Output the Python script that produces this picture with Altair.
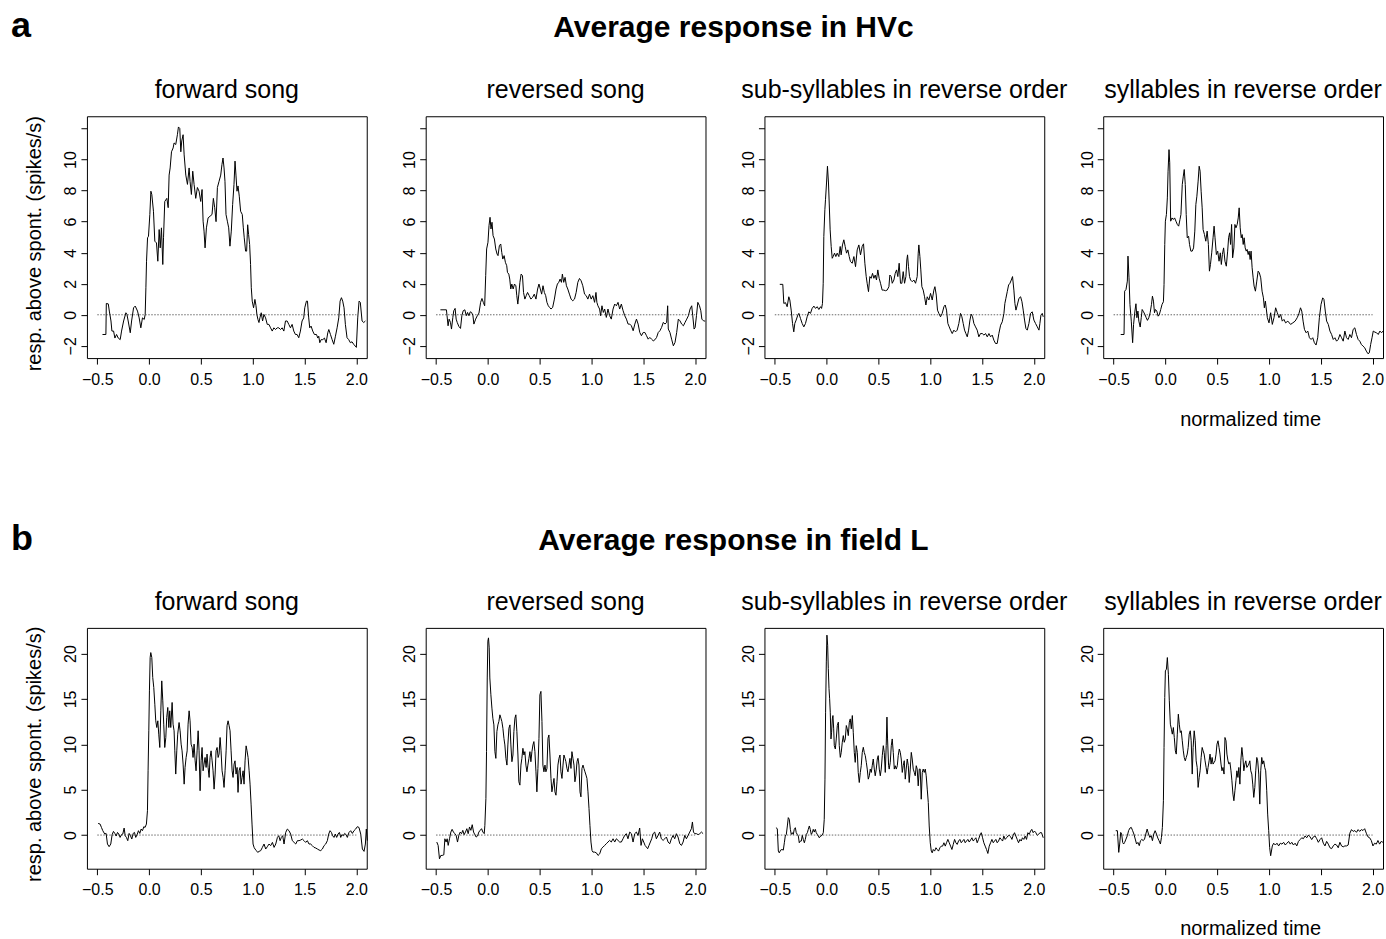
import altair as alt
import pandas as pd

FONT = "Liberation Sans"

PANEL_TITLES = ["forward song", "reversed song",
                "sub-syllables in reverse order", "syllables in reverse order"]
ROW_HEADINGS = ["Average response in HVc", "Average response in field L"]
ROW_LETTERS = ["a", "b"]
Y_TITLE = "resp. above spont. (spikes/s)"
X_TITLE = "normalized time"
X_TICKS = [-0.5, 0.0, 0.5, 1.0, 1.5, 2.0]
Y_TICKS_HVC = [-2, 0, 2, 4, 6, 8, 10, 12]
Y_TICKS_FIELDL = [0, 5, 10, 15, 20]
X_DOMAIN = [-0.6, 2.1]
Y_DOMAIN_HVC = [-2.79, 12.79]
Y_DOMAIN_FIELDL = [-3.71, 22.83]
ZERO_LINE = [-0.5, 2.0]

# (normalized time, response above spontaneous in spikes/s)
HVC_FORWARD = [(-0.450,-1.27),(-0.417,-1.27),(-0.413,0.73),(-0.394,0.70),(-0.384,0.24),(-0.368,-0.40),(-0.359,-1.05),(-0.343,-1.05),(-0.330,-1.50),(-0.314,-1.27),(-0.298,-1.50),(-0.279,-1.60),(-0.266,-1.05),(-0.246,-0.40),(-0.224,0.13),(-0.214,0.02),(-0.202,-0.40),(-0.182,-1.16),(-0.169,-0.40),(-0.150,0.45),(-0.134,0.56),(-0.112,0.24),(-0.096,-0.20),(-0.080,-0.84),(-0.064,-0.20),(-0.047,-0.30),(-0.038,0.02),(-0.031,1.74),(-0.025,3.45),(-0.015,4.96),(-0.006,5.06),(0.007,6.46),(0.017,7.96),(0.026,7.75),(0.042,6.67),(0.055,4.74),(0.071,4.63),(0.084,3.45),(0.097,5.49),(0.107,4.31),(0.119,5.60),(0.132,3.24),(0.139,4.96),(0.151,7.30),(0.171,7.50),(0.184,6.90),(0.193,9.00),(0.203,9.46),(0.216,10.50),(0.232,10.75),(0.241,11.07),(0.257,10.97),(0.273,11.60),(0.283,12.10),(0.296,12.00),(0.306,10.50),(0.315,11.20),(0.328,11.60),(0.338,10.30),(0.354,9.00),(0.370,8.40),(0.386,9.46),(0.395,8.60),(0.408,7.75),(0.421,9.25),(0.434,8.40),(0.450,7.50),(0.466,8.20),(0.482,7.96),(0.498,7.30),(0.511,8.07),(0.521,6.03),(0.530,5.39),(0.540,4.31),(0.553,5.60),(0.569,6.24),(0.588,6.35),(0.607,6.46),(0.620,7.50),(0.633,6.90),(0.646,6.00),(0.659,8.20),(0.675,8.60),(0.691,9.00),(0.703,9.68),(0.713,10.10),(0.723,9.46),(0.732,8.60),(0.742,6.46),(0.755,6.03),(0.768,5.60),(0.780,4.42),(0.793,5.39),(0.806,7.10),(0.819,8.40),(0.829,9.90),(0.838,9.00),(0.848,7.96),(0.858,8.30),(0.870,7.64),(0.883,6.67),(0.899,6.46),(0.909,5.60),(0.918,4.96),(0.931,4.10),(0.941,4.10),(0.951,5.80),(0.960,5.17),(0.970,4.53),(0.979,3.24),(0.986,1.74),(0.995,0.88),(1.008,0.45),(1.021,0.99),(1.031,0.60),(1.040,0.02),(1.050,-0.30),(1.060,-0.50),(1.069,-0.20),(1.082,0.13),(1.095,-0.40),(1.108,0.02),(1.124,-0.20),(1.140,-0.62),(1.156,-0.62),(1.172,-0.84),(1.188,-1.05),(1.204,-0.84),(1.220,-0.95),(1.236,-0.84),(1.252,-0.84),(1.268,-0.95),(1.284,-0.84),(1.300,-1.05),(1.316,-0.40),(1.332,-0.40),(1.348,-0.62),(1.364,-0.84),(1.380,-0.62),(1.396,-1.05),(1.412,-1.27),(1.428,-1.27),(1.444,-1.48),(1.460,-1.05),(1.476,-0.40),(1.492,-0.20),(1.502,0.45),(1.518,0.88),(1.528,0.88),(1.540,-0.20),(1.550,-0.84),(1.563,-0.73),(1.579,-1.05),(1.595,-1.27),(1.615,-1.27),(1.628,-1.50),(1.637,-1.38),(1.647,-1.80),(1.660,-1.60),(1.676,-1.60),(1.692,-1.50),(1.708,-1.80),(1.724,-1.16),(1.734,-0.95),(1.750,-1.27),(1.766,-1.60),(1.782,-1.90),(1.798,-1.38),(1.814,-0.84),(1.830,-0.20),(1.843,0.88),(1.856,1.10),(1.868,0.88),(1.881,0.45),(1.894,-0.62),(1.910,-1.48),(1.926,-1.60),(1.942,-1.80),(1.958,-1.74),(1.974,-1.90),(2.000,-2.10),(2.013,-0.20),(2.026,0.88),(2.038,0.80),(2.055,-0.40),(2.071,-0.50),(2.087,-0.40)]

HVC_REVERSED = [(-0.458,0.32),(-0.400,0.32),(-0.394,-0.06),(-0.384,-0.71),(-0.374,-0.28),(-0.361,-0.49),(-0.351,-0.92),(-0.338,-0.17),(-0.329,0.26),(-0.316,0.41),(-0.306,-0.28),(-0.296,-0.49),(-0.280,-0.75),(-0.264,-0.88),(-0.251,-0.06),(-0.238,0.26),(-0.222,0.32),(-0.209,-0.06),(-0.196,0.15),(-0.183,-0.06),(-0.170,0.19),(-0.157,0.15),(-0.144,-0.06),(-0.135,-0.60),(-0.118,-0.28),(-0.102,-0.06),(-0.086,0.11),(-0.070,0.80),(-0.057,1.05),(-0.044,0.80),(-0.031,0.58),(-0.021,2.52),(-0.012,4.24),(0.001,4.67),(0.011,5.74),(0.021,6.28),(0.030,5.53),(0.040,5.96),(0.050,5.10),(0.063,4.88),(0.076,4.24),(0.089,3.91),(0.098,3.81),(0.111,4.45),(0.124,4.56),(0.134,4.02),(0.144,3.59),(0.157,3.81),(0.169,3.38),(0.182,3.16),(0.189,2.73),(0.202,2.62),(0.211,2.30),(0.221,1.66),(0.231,1.98),(0.244,1.66),(0.257,1.98),(0.270,1.87),(0.279,1.23),(0.289,0.69),(0.299,1.33),(0.309,2.09),(0.321,2.62),(0.334,2.52),(0.344,1.44),(0.357,1.01),(0.370,1.23),(0.383,1.44),(0.399,1.23),(0.415,1.01),(0.431,1.12),(0.448,1.33),(0.464,1.01),(0.480,1.66),(0.493,1.98),(0.506,1.66),(0.519,1.33),(0.532,1.87),(0.545,1.44),(0.558,1.23),(0.570,0.80),(0.583,0.58),(0.596,0.47),(0.609,0.37),(0.625,0.47),(0.642,1.01),(0.658,1.66),(0.671,1.98),(0.684,2.09),(0.697,2.30),(0.710,2.09),(0.719,2.62),(0.732,2.09),(0.745,2.41),(0.758,1.87),(0.771,1.66),(0.787,1.33),(0.803,1.01),(0.819,0.90),(0.836,1.01),(0.852,1.44),(0.868,2.09),(0.884,2.34),(0.900,2.19),(0.916,1.87),(0.933,1.33),(0.949,1.23),(0.965,1.01),(0.981,1.33),(0.997,1.01),(1.013,1.23),(1.030,0.80),(1.043,1.44),(1.052,0.80),(1.062,0.58),(1.078,0.37),(1.088,-0.06),(1.101,0.58),(1.114,0.15),(1.127,0.37),(1.143,-0.17),(1.159,0.37),(1.175,-0.06),(1.191,-0.28),(1.208,0.37),(1.224,0.69),(1.240,0.58),(1.256,0.80),(1.272,0.37),(1.288,0.69),(1.305,0.26),(1.321,-0.06),(1.337,-0.28),(1.353,-0.60),(1.369,-0.60),(1.385,-0.71),(1.402,-1.03),(1.418,-0.60),(1.434,-0.28),(1.450,-0.60),(1.466,-1.14),(1.482,-1.35),(1.499,-1.14),(1.515,-1.14),(1.531,-1.35),(1.547,-1.57),(1.563,-1.46),(1.579,-1.57),(1.596,-1.68),(1.612,-1.61),(1.628,-1.46),(1.644,-1.14),(1.660,-1.03),(1.676,-0.82),(1.693,-0.49),(1.709,-0.60),(1.725,-0.49),(1.735,0.58),(1.741,-0.92),(1.757,-1.14),(1.773,-1.57),(1.790,-2.00),(1.806,-1.78),(1.822,-1.14),(1.838,-0.28),(1.854,-0.39),(1.870,-0.60),(1.887,-0.71),(1.903,-0.49),(1.919,-0.28),(1.935,-0.06),(1.951,0.37),(1.967,0.58),(1.977,-0.06),(1.990,-0.92),(2.000,-0.82),(2.013,-0.06),(2.026,0.80),(2.042,0.58),(2.055,0.26),(2.065,-0.28),(2.081,-0.39),(2.097,-0.41)]

HVC_SUBSYL = [(-0.452,1.96),(-0.423,1.96),(-0.413,0.73),(-0.397,0.78),(-0.381,0.52),(-0.365,1.16),(-0.355,0.95),(-0.342,0.30),(-0.329,-0.56),(-0.317,-1.10),(-0.307,-0.56),(-0.294,-0.34),(-0.278,-0.02),(-0.268,0.09),(-0.252,-0.24),(-0.236,-0.56),(-0.220,-0.78),(-0.204,-0.56),(-0.188,-0.13),(-0.172,0.19),(-0.156,0.09),(-0.140,0.41),(-0.123,0.56),(-0.107,0.41),(-0.091,0.52),(-0.075,0.34),(-0.059,0.52),(-0.049,0.41),(-0.040,0.73),(-0.033,2.03),(-0.027,5.04),(-0.017,6.77),(-0.011,7.41),(-0.001,8.49),(0.008,9.57),(0.018,8.49),(0.025,7.20),(0.034,5.47),(0.044,4.40),(0.054,3.64),(0.063,3.75),(0.076,3.97),(0.089,3.75),(0.102,3.97),(0.118,3.75),(0.131,4.40),(0.140,3.86),(0.153,4.50),(0.166,4.83),(0.179,4.40),(0.192,3.97),(0.205,4.18),(0.218,3.75),(0.230,3.43),(0.247,3.32),(0.263,3.75),(0.279,3.10),(0.295,4.18),(0.311,4.50),(0.327,3.86),(0.343,4.40),(0.356,4.57),(0.369,3.32),(0.382,2.46),(0.391,2.03),(0.404,1.49),(0.417,2.46),(0.430,2.35),(0.443,2.67),(0.456,2.35),(0.469,2.56),(0.481,2.24),(0.494,2.89),(0.507,2.35),(0.520,2.03),(0.536,1.59),(0.552,1.59),(0.568,1.55),(0.584,1.59),(0.601,1.81),(0.610,2.56),(0.623,2.46),(0.633,2.03),(0.649,2.24),(0.662,2.67),(0.675,2.89),(0.687,2.46),(0.700,3.32),(0.713,2.03),(0.726,2.03),(0.739,2.78),(0.752,2.03),(0.765,2.46),(0.774,3.53),(0.781,3.86),(0.790,3.10),(0.800,2.46),(0.810,2.24),(0.826,2.13),(0.842,2.24),(0.858,2.03),(0.874,2.46),(0.884,3.97),(0.890,4.50),(0.900,3.75),(0.909,2.89),(0.919,1.81),(0.932,1.59),(0.945,1.16),(0.958,0.63),(0.971,1.16),(0.987,0.95),(1.003,1.38),(1.019,0.95),(1.035,1.59),(1.045,1.81),(1.058,1.27),(1.070,0.30),(1.083,0.09),(1.099,-0.13),(1.115,0.09),(1.132,0.52),(1.144,0.63),(1.157,0.30),(1.170,-0.56),(1.183,-0.78),(1.196,-0.99),(1.212,-1.21),(1.228,-0.99),(1.244,-1.10),(1.260,-0.99),(1.276,-0.56),(1.292,0.09),(1.305,-0.13),(1.318,-0.56),(1.331,-0.99),(1.344,-1.21),(1.357,-1.42),(1.370,-0.99),(1.383,-0.34),(1.395,0.04),(1.408,-0.13),(1.421,-0.56),(1.437,-0.78),(1.453,-0.99),(1.469,-1.42),(1.485,-1.21),(1.502,-1.21),(1.518,-1.31),(1.534,-1.21),(1.550,-1.42),(1.566,-1.21),(1.582,-1.42),(1.598,-1.31),(1.614,-1.64),(1.630,-1.85),(1.646,-1.85),(1.662,-1.21),(1.679,-0.67),(1.695,-0.45),(1.711,0.09),(1.720,0.73),(1.730,1.06),(1.743,1.49),(1.756,1.92),(1.769,2.03),(1.782,2.24),(1.794,2.46),(1.807,1.59),(1.817,0.73),(1.827,0.30),(1.840,0.63),(1.856,1.06),(1.872,1.16),(1.885,0.84),(1.897,0.30),(1.910,-0.34),(1.923,-0.88),(1.936,-0.99),(1.952,-0.56),(1.968,0.09),(1.984,0.19),(2.000,-0.34),(2.016,-0.56),(2.033,-0.78),(2.049,-0.99),(2.058,-0.56),(2.068,-0.02),(2.081,0.09),(2.090,-0.13)]

HVC_SYL = [(-0.431,-1.27),(-0.399,-1.27),(-0.393,1.52),(-0.380,1.63),(-0.367,2.17),(-0.361,3.78),(-0.351,2.38),(-0.342,0.67),(-0.329,-0.41),(-0.316,-1.80),(-0.307,-0.62),(-0.294,0.24),(-0.284,0.71),(-0.275,-0.19),(-0.265,0.24),(-0.256,-0.41),(-0.243,-0.79),(-0.233,-0.19),(-0.224,0.34),(-0.211,0.19),(-0.198,0.02),(-0.185,-0.19),(-0.173,-0.36),(-0.160,-0.19),(-0.147,0.13),(-0.134,0.67),(-0.125,1.20),(-0.115,0.88),(-0.105,0.13),(-0.096,0.34),(-0.083,0.24),(-0.070,-0.09),(-0.058,0.02),(-0.045,0.34),(-0.032,0.67),(-0.019,0.84),(-0.013,1.95),(-0.006,4.53),(0.000,6.03),(0.010,6.46),(0.019,7.53),(0.026,9.25),(0.035,10.64),(0.042,9.79),(0.051,6.03),(0.064,6.24),(0.077,6.14),(0.089,6.24),(0.102,6.03),(0.115,5.82),(0.128,5.71),(0.141,6.14),(0.150,6.46),(0.163,8.39),(0.173,8.93),(0.182,9.36),(0.192,8.39),(0.201,6.46),(0.211,4.96),(0.224,5.06),(0.233,4.53),(0.246,4.10),(0.259,4.10),(0.272,4.31),(0.284,5.39),(0.294,7.10),(0.304,7.64),(0.316,8.61),(0.326,9.57),(0.335,9.25),(0.345,7.96),(0.355,6.89),(0.364,5.49),(0.377,5.17),(0.390,4.74),(0.403,5.39),(0.415,4.53),(0.425,2.81),(0.435,3.24),(0.447,3.99),(0.460,4.96),(0.470,5.71),(0.479,4.96),(0.492,3.88),(0.505,4.10),(0.518,3.45),(0.530,3.99),(0.540,3.24),(0.550,3.88),(0.562,4.31),(0.575,3.45),(0.588,3.13),(0.601,4.10),(0.610,4.96),(0.620,5.28),(0.629,4.53),(0.639,5.82),(0.649,3.67),(0.661,4.31),(0.671,5.82),(0.681,5.60),(0.693,5.82),(0.703,6.24),(0.712,6.89),(0.722,5.60),(0.732,4.96),(0.741,5.17),(0.751,4.53),(0.760,4.96),(0.770,4.31),(0.780,4.10),(0.789,4.21),(0.799,3.88),(0.808,4.10),(0.818,3.56),(0.827,4.10),(0.837,3.03),(0.847,2.38),(0.856,1.85),(0.869,1.52),(0.882,2.17),(0.895,2.81),(0.907,2.70),(0.920,2.38),(0.933,1.52),(0.946,1.09),(0.955,0.45),(0.965,0.88),(0.984,-0.19),(1.000,-0.52),(1.016,0.13),(1.032,-0.62),(1.048,-0.19),(1.064,0.45),(1.080,0.13),(1.096,-0.19),(1.112,0.02),(1.128,-0.41),(1.144,-0.30),(1.160,-0.52),(1.182,-0.41),(1.208,-0.62),(1.230,-0.52),(1.252,-0.41),(1.272,-0.19),(1.288,0.06),(1.304,0.45),(1.316,0.24),(1.329,-0.41),(1.342,-0.94),(1.358,-1.16),(1.374,-1.05),(1.390,-1.48),(1.406,-1.59),(1.422,-1.48),(1.438,-1.80),(1.454,-1.95),(1.470,-1.48),(1.486,-0.19),(1.502,0.67),(1.518,1.09),(1.530,0.99),(1.543,0.24),(1.556,-0.41),(1.572,-0.62),(1.588,-1.05),(1.604,-1.27),(1.620,-1.59),(1.636,-1.48),(1.652,-1.70),(1.668,-1.59),(1.684,-1.27),(1.700,-1.48),(1.716,-1.70),(1.732,-1.05),(1.748,-1.48),(1.764,-1.59),(1.780,-1.27),(1.796,-1.48),(1.812,-0.94),(1.828,-0.84),(1.844,-1.27),(1.860,-1.59),(1.876,-1.70),(1.891,-1.91),(1.907,-2.02),(1.923,-2.12),(1.939,-2.34),(1.955,-2.51),(1.968,-2.45),(1.981,-1.91),(1.994,-1.48),(2.006,-1.05),(2.022,-1.12),(2.038,-1.16),(2.054,-1.27),(2.070,-1.05),(2.086,-1.16),(2.100,-1.05)]

FIELDL_FORWARD = [(-0.492,1.28),(-0.473,1.21),(-0.460,0.84),(-0.447,0.48),(-0.428,0.11),(-0.415,0.18),(-0.402,-0.99),(-0.386,-1.28),(-0.370,-0.99),(-0.357,0.04),(-0.344,0.40),(-0.331,0.18),(-0.318,-0.11),(-0.305,0.29),(-0.293,0.11),(-0.280,-0.26),(-0.267,0.04),(-0.254,0.11),(-0.241,0.77),(-0.231,-0.07),(-0.219,-0.26),(-0.206,-0.62),(-0.193,0.18),(-0.180,-0.07),(-0.167,-0.44),(-0.154,0.18),(-0.141,0.29),(-0.129,-0.26),(-0.116,0.04),(-0.103,0.48),(-0.090,0.18),(-0.077,0.66),(-0.064,0.48),(-0.051,0.92),(-0.039,0.84),(-0.026,1.21),(-0.016,2.68),(-0.010,7.08),(-0.003,11.49),(0.003,15.89),(0.010,19.56),(0.016,20.11),(0.026,19.56),(0.035,17.36),(0.045,16.26),(0.055,14.42),(0.064,12.59),(0.074,11.85),(0.084,12.59),(0.093,11.12),(0.103,9.65),(0.113,13.69),(0.122,16.99),(0.132,14.79),(0.141,12.22),(0.151,9.65),(0.161,10.75),(0.170,12.95),(0.180,14.06),(0.190,11.85),(0.199,13.69),(0.209,11.85),(0.222,14.61),(0.231,12.22),(0.241,11.49),(0.248,9.28),(0.257,6.72),(0.267,9.28),(0.276,11.12),(0.289,12.40),(0.299,11.49),(0.309,10.02),(0.318,9.28),(0.328,7.82),(0.338,5.61),(0.347,7.45),(0.357,8.55),(0.367,9.28),(0.376,12.22),(0.386,13.69),(0.395,12.59),(0.405,10.02),(0.415,9.65),(0.424,8.55),(0.434,10.02),(0.444,8.18),(0.453,7.08),(0.463,9.28),(0.473,11.49),(0.482,9.28),(0.492,4.88),(0.502,8.18),(0.511,9.65),(0.521,7.08),(0.530,7.82),(0.540,8.55),(0.550,7.45),(0.559,8.92),(0.569,7.45),(0.579,6.35),(0.588,8.55),(0.598,9.28),(0.608,8.18),(0.617,7.08),(0.627,5.06),(0.637,6.72),(0.646,9.28),(0.656,9.65),(0.666,8.55),(0.675,8.92),(0.685,10.75),(0.694,9.28),(0.704,7.08),(0.714,6.35),(0.723,5.25),(0.733,7.08),(0.743,9.28),(0.752,12.04),(0.762,12.59),(0.772,12.04),(0.781,11.49),(0.791,9.28),(0.801,7.08),(0.810,6.35),(0.820,7.82),(0.829,8.18),(0.839,6.72),(0.849,7.45),(0.858,4.70),(0.868,7.08),(0.878,7.45),(0.887,5.61),(0.897,6.35),(0.907,7.08),(0.916,5.61),(0.926,8.18),(0.936,9.83),(0.945,9.28),(0.955,8.55),(0.965,7.08),(0.974,5.61),(0.984,3.41),(0.993,1.21),(1.003,-0.99),(1.013,-1.36),(1.022,-1.54),(1.035,-1.72),(1.048,-1.91),(1.061,-1.80),(1.077,-1.72),(1.093,-1.36),(1.109,-0.99),(1.125,-1.54),(1.141,-1.28),(1.157,-0.99),(1.173,-1.17),(1.190,-0.81),(1.206,-1.36),(1.222,-0.99),(1.238,-0.26),(1.251,-0.07),(1.264,-0.62),(1.276,-0.26),(1.289,-0.07),(1.302,-0.99),(1.318,0.29),(1.334,0.66),(1.350,0.48),(1.366,0.11),(1.382,-0.62),(1.399,-0.81),(1.415,-0.99),(1.431,-0.62),(1.447,-0.62),(1.463,-0.55),(1.479,-0.44),(1.495,-0.62),(1.511,-0.81),(1.527,-0.62),(1.543,-0.99),(1.559,-0.99),(1.575,-1.17),(1.591,-1.36),(1.608,-1.43),(1.624,-1.54),(1.640,-1.65),(1.656,-1.72),(1.672,-1.54),(1.688,-1.17),(1.704,-0.99),(1.720,-0.62),(1.733,0.11),(1.746,0.48),(1.759,0.29),(1.771,-0.07),(1.784,-0.26),(1.797,0.11),(1.810,-0.26),(1.823,0.11),(1.836,0.29),(1.849,-0.26),(1.861,0.04),(1.874,-0.07),(1.887,0.18),(1.900,0.04),(1.913,-0.26),(1.929,0.29),(1.945,0.48),(1.961,0.18),(1.977,0.48),(1.993,0.66),(2.009,0.92),(2.025,0.84),(2.042,0.11),(2.058,-1.54),(2.074,-1.80),(2.087,-0.99),(2.096,0.66),(2.106,-0.62)]

FIELDL_REVERSED = [(-0.493,-0.77),(-0.480,-1.14),(-0.467,-2.62),(-0.454,-2.25),(-0.441,-2.25),(-0.425,-2.18),(-0.415,-0.41),(-0.403,-0.77),(-0.393,-0.41),(-0.383,-1.14),(-0.370,-0.41),(-0.357,0.33),(-0.345,0.63),(-0.332,0.33),(-0.319,0.15),(-0.306,-0.04),(-0.293,-0.77),(-0.280,-0.04),(-0.267,0.33),(-0.254,0.15),(-0.242,0.52),(-0.229,0.04),(-0.216,0.33),(-0.203,0.70),(-0.190,0.15),(-0.177,0.89),(-0.164,0.52),(-0.151,1.14),(-0.138,0.33),(-0.126,0.04),(-0.113,-0.22),(-0.100,-0.11),(-0.087,0.33),(-0.074,0.52),(-0.061,0.70),(-0.048,0.33),(-0.035,0.15),(-0.029,1.07),(-0.019,4.02),(-0.013,9.19),(-0.006,17.31),(0.000,21.37),(0.006,21.73),(0.013,20.63),(0.019,17.31),(0.029,15.46),(0.039,13.99),(0.048,12.88),(0.058,12.14),(0.068,9.19),(0.077,8.45),(0.087,11.40),(0.097,12.14),(0.106,12.51),(0.116,13.25),(0.126,12.88),(0.135,12.51),(0.145,11.77),(0.155,10.66),(0.164,9.93),(0.174,8.45),(0.184,7.71),(0.193,9.93),(0.203,11.77),(0.213,12.14),(0.222,9.93),(0.232,8.08),(0.242,8.82),(0.251,11.40),(0.261,12.88),(0.270,13.25),(0.280,11.40),(0.290,8.82),(0.299,5.87),(0.309,5.50),(0.319,7.71),(0.328,8.45),(0.338,9.56),(0.348,8.82),(0.357,9.19),(0.367,7.71),(0.377,6.97),(0.386,7.71),(0.396,8.45),(0.406,9.19),(0.415,8.08),(0.425,9.19),(0.435,9.93),(0.444,10.30),(0.454,9.19),(0.464,6.97),(0.473,4.76),(0.483,7.34),(0.493,10.66),(0.502,15.46),(0.512,15.83),(0.522,12.51),(0.531,7.71),(0.541,6.97),(0.551,7.71),(0.560,6.97),(0.570,7.34),(0.580,10.66),(0.589,11.03),(0.599,8.82),(0.609,6.24),(0.618,4.76),(0.628,5.50),(0.638,6.24),(0.647,4.76),(0.657,4.39),(0.667,5.87),(0.676,7.71),(0.686,8.45),(0.696,8.82),(0.705,6.97),(0.715,6.24),(0.725,7.71),(0.734,8.82),(0.744,8.45),(0.753,8.08),(0.763,7.34),(0.773,6.97),(0.782,7.71),(0.792,8.45),(0.802,7.34),(0.811,9.19),(0.821,8.45),(0.831,7.71),(0.840,5.87),(0.850,6.61),(0.860,8.08),(0.869,8.45),(0.879,7.71),(0.889,4.76),(0.898,4.21),(0.908,7.34),(0.918,7.71),(0.927,7.34),(0.937,6.97),(0.947,6.61),(0.956,6.24),(0.966,4.76),(0.976,2.92),(0.985,1.07),(0.995,-0.77),(1.005,-1.70),(1.014,-1.88),(1.030,-1.88),(1.047,-1.96),(1.063,-2.25),(1.079,-2.07),(1.095,-1.51),(1.111,-1.33),(1.127,-1.14),(1.143,-0.96),(1.159,-0.77),(1.175,-0.59),(1.191,-0.77),(1.208,-0.41),(1.224,-0.77),(1.240,-0.41),(1.256,-0.59),(1.272,-0.77),(1.288,-0.77),(1.304,-0.41),(1.320,-0.04),(1.336,0.15),(1.352,-0.41),(1.369,0.33),(1.385,0.15),(1.401,-0.77),(1.417,0.15),(1.433,0.33),(1.449,-0.04),(1.465,0.77),(1.478,-1.14),(1.491,-0.41),(1.504,-0.77),(1.517,-1.14),(1.530,-1.33),(1.542,-1.51),(1.555,-1.14),(1.568,-0.77),(1.581,-0.41),(1.594,0.15),(1.610,0.33),(1.626,-0.41),(1.642,-0.04),(1.658,0.33),(1.674,-0.41),(1.691,-0.59),(1.707,-0.41),(1.723,-0.22),(1.739,-0.77),(1.755,-0.96),(1.771,-0.41),(1.787,-0.04),(1.803,-0.41),(1.819,0.15),(1.835,-0.22),(1.852,-0.96),(1.868,-1.14),(1.884,-0.77),(1.900,-0.04),(1.916,-0.41),(1.932,-0.04),(1.948,0.33),(1.964,0.70),(1.974,1.44),(1.984,0.33),(1.996,0.15),(2.013,0.15),(2.029,0.04),(2.045,0.15),(2.061,0.33),(2.077,0.15)]

FIELDL_SUBSYL = [(-0.489,0.81),(-0.476,0.70),(-0.466,-1.77),(-0.457,-1.96),(-0.444,-1.66),(-0.431,-1.59),(-0.418,-1.66),(-0.408,-0.85),(-0.399,-0.11),(-0.389,0.07),(-0.379,1.00),(-0.370,1.92),(-0.360,1.73),(-0.350,0.63),(-0.341,0.07),(-0.331,0.26),(-0.322,0.07),(-0.312,0.63),(-0.302,0.81),(-0.293,0.26),(-0.283,0.07),(-0.273,-0.11),(-0.264,-0.85),(-0.254,-0.66),(-0.244,-0.66),(-0.235,-0.04),(-0.225,-0.48),(-0.215,-0.85),(-0.206,-0.48),(-0.196,0.07),(-0.186,0.26),(-0.177,0.63),(-0.167,1.00),(-0.158,0.63),(-0.148,0.07),(-0.138,0.26),(-0.129,0.63),(-0.119,0.33),(-0.109,0.63),(-0.100,0.26),(-0.090,0.07),(-0.080,-0.11),(-0.071,-0.30),(-0.058,-0.11),(-0.045,-0.04),(-0.032,0.26),(-0.023,1.73),(-0.016,6.16),(-0.010,13.54),(-0.003,19.08),(0.003,22.03),(0.010,20.92),(0.016,18.34),(0.023,16.13),(0.029,15.02),(0.035,13.54),(0.042,10.59),(0.048,11.33),(0.055,12.80),(0.061,13.17),(0.068,11.70),(0.074,9.85),(0.084,9.48),(0.093,10.59),(0.103,12.07),(0.113,12.44),(0.122,9.85),(0.132,8.56),(0.141,9.11),(0.151,10.22),(0.161,10.96),(0.170,10.22),(0.180,10.59),(0.190,12.07),(0.199,11.70),(0.209,10.96),(0.219,12.44),(0.228,12.80),(0.238,11.70),(0.248,13.17),(0.257,11.33),(0.267,9.11),(0.276,8.01),(0.286,9.85),(0.296,9.11),(0.305,6.90),(0.315,5.79),(0.325,6.90),(0.334,7.64),(0.344,9.11),(0.354,9.67),(0.363,9.11),(0.373,8.75),(0.383,8.01),(0.392,7.27),(0.402,6.16),(0.412,6.53),(0.421,7.27),(0.431,6.90),(0.440,7.64),(0.450,8.38),(0.460,7.27),(0.469,6.53),(0.479,7.27),(0.489,8.38),(0.498,8.75),(0.508,7.27),(0.518,6.53),(0.527,7.27),(0.537,8.75),(0.547,9.85),(0.556,9.11),(0.566,6.90),(0.575,9.85),(0.582,13.00),(0.588,10.59),(0.598,7.64),(0.604,7.27),(0.614,8.01),(0.624,9.85),(0.633,10.59),(0.643,9.11),(0.653,7.27),(0.662,7.64),(0.672,7.27),(0.682,7.64),(0.691,8.75),(0.701,9.48),(0.711,9.11),(0.720,8.38),(0.730,6.90),(0.739,7.64),(0.749,8.19),(0.759,6.16),(0.768,7.27),(0.778,8.38),(0.788,7.64),(0.797,5.79),(0.807,7.27),(0.817,9.11),(0.826,8.38),(0.836,7.27),(0.846,6.90),(0.855,6.53),(0.865,7.64),(0.874,7.27),(0.884,5.42),(0.894,7.27),(0.903,7.27),(0.913,3.95),(0.923,6.90),(0.932,7.27),(0.942,6.90),(0.952,7.27),(0.961,6.53),(0.971,5.06),(0.981,3.58),(0.990,1.00),(1.000,-0.85),(1.010,-1.77),(1.019,-1.96),(1.029,-1.59),(1.042,-1.77),(1.055,-1.40),(1.067,-1.59),(1.080,-1.77),(1.093,-1.40),(1.106,-1.22),(1.119,-1.22),(1.132,-0.85),(1.145,-1.22),(1.157,-0.85),(1.170,-0.48),(1.183,-0.85),(1.196,-1.22),(1.209,-1.59),(1.222,-1.03),(1.235,-0.48),(1.247,-0.85),(1.260,-1.03),(1.273,-0.66),(1.286,-0.48),(1.299,-0.85),(1.312,-0.66),(1.325,-0.48),(1.337,-0.85),(1.350,-0.66),(1.363,-0.48),(1.376,-0.77),(1.389,-0.55),(1.402,-0.30),(1.415,-0.66),(1.427,-0.48),(1.440,-0.30),(1.453,-0.85),(1.466,-0.48),(1.479,-0.04),(1.492,0.26),(1.505,-0.30),(1.517,-0.85),(1.530,-1.22),(1.543,-1.59),(1.556,-2.03),(1.569,-1.22),(1.582,-0.85),(1.595,-0.48),(1.608,-0.85),(1.620,-0.66),(1.633,-0.48),(1.646,-0.85),(1.659,-0.66),(1.672,-0.30),(1.685,-0.48),(1.698,-0.66),(1.710,-0.11),(1.723,-0.48),(1.736,-0.30),(1.749,-0.11),(1.762,-0.04),(1.775,-0.18),(1.788,-0.48),(1.800,-0.04),(1.813,0.26),(1.826,-0.11),(1.839,-0.48),(1.852,-0.85),(1.865,-0.48),(1.878,-0.66),(1.890,-0.30),(1.903,-0.48),(1.916,-0.11),(1.929,-0.48),(1.942,0.26),(1.955,0.07),(1.968,0.44),(1.980,0.63),(1.993,0.26),(2.006,0.44),(2.019,0.26),(2.032,-0.04),(2.045,0.07),(2.058,0.26),(2.074,0.26),(2.090,-0.30)]

FIELDL_SYL = [(-0.479,0.48),(-0.463,0.48),(-0.450,-1.91),(-0.441,-0.99),(-0.431,0.29),(-0.422,0.11),(-0.412,-0.81),(-0.403,-0.99),(-0.393,-0.81),(-0.380,-0.44),(-0.367,-0.07),(-0.355,0.48),(-0.342,0.77),(-0.329,0.84),(-0.316,0.48),(-0.304,0.11),(-0.291,-0.44),(-0.278,-0.99),(-0.265,-0.81),(-0.252,-1.17),(-0.240,-0.62),(-0.227,-0.48),(-0.214,-0.62),(-0.201,-0.44),(-0.189,0.11),(-0.176,0.66),(-0.163,0.11),(-0.150,-0.26),(-0.137,-0.07),(-0.125,-0.62),(-0.112,0.11),(-0.099,0.48),(-0.086,0.11),(-0.073,-0.33),(-0.061,-0.62),(-0.048,-0.99),(-0.038,-0.26),(-0.029,0.84),(-0.019,3.78),(-0.013,9.65),(-0.006,15.16),(0.000,18.09),(0.010,18.28),(0.019,19.56),(0.029,17.72),(0.038,14.79),(0.048,12.22),(0.058,11.67),(0.067,11.12),(0.077,11.85),(0.086,10.75),(0.096,9.28),(0.105,8.92),(0.115,11.12),(0.125,13.32),(0.134,12.22),(0.144,11.30),(0.153,11.49),(0.163,10.39),(0.173,9.28),(0.182,8.55),(0.192,8.18),(0.201,8.55),(0.211,8.92),(0.220,9.65),(0.230,11.12),(0.240,11.49),(0.249,10.39),(0.259,6.72),(0.268,9.65),(0.278,11.49),(0.288,10.39),(0.297,8.18),(0.307,7.45),(0.316,5.25),(0.326,6.35),(0.335,7.08),(0.345,8.55),(0.355,9.65),(0.364,9.28),(0.374,8.92),(0.383,8.18),(0.393,7.45),(0.403,6.72),(0.412,7.45),(0.422,8.18),(0.431,8.92),(0.441,7.82),(0.451,8.55),(0.460,7.82),(0.470,8.00),(0.479,8.18),(0.489,8.92),(0.498,10.02),(0.508,10.39),(0.518,9.65),(0.527,8.92),(0.537,7.82),(0.546,7.08),(0.556,7.45),(0.566,6.72),(0.575,10.75),(0.585,10.39),(0.594,8.92),(0.604,8.18),(0.613,7.82),(0.623,8.00),(0.633,7.08),(0.642,5.98),(0.652,4.51),(0.661,3.78),(0.671,4.88),(0.681,5.98),(0.690,7.08),(0.700,6.35),(0.709,7.45),(0.719,5.61),(0.728,8.18),(0.738,9.65),(0.748,8.55),(0.757,7.08),(0.767,7.82),(0.776,8.18),(0.786,7.45),(0.796,7.63),(0.805,7.82),(0.815,8.18),(0.824,7.08),(0.834,6.72),(0.843,5.61),(0.853,4.15),(0.863,5.25),(0.872,7.08),(0.882,8.55),(0.891,8.18),(0.901,6.72),(0.911,3.41),(0.920,7.08),(0.930,8.55),(0.939,7.82),(0.949,8.18),(0.959,7.45),(0.968,7.08),(0.978,4.88),(0.987,2.31),(0.997,0.48),(1.006,-1.36),(1.016,-2.28),(1.032,-1.20),(1.045,-0.90),(1.061,-1.10),(1.077,-0.90),(1.093,-1.20),(1.109,-0.90),(1.125,-1.00),(1.141,-0.80),(1.157,-1.10),(1.173,-0.90),(1.189,-0.70),(1.205,-1.00),(1.220,-0.80),(1.236,-1.10),(1.252,-0.90),(1.268,-1.20),(1.284,-0.70),(1.300,-0.50),(1.316,-0.30),(1.332,-0.40),(1.348,-0.10),(1.364,-0.30),(1.380,0.00),(1.396,-0.20),(1.412,-0.50),(1.428,-0.20),(1.444,-0.10),(1.460,-0.40),(1.476,-0.80),(1.492,-0.50),(1.508,-0.30),(1.524,-0.90),(1.540,-1.20),(1.556,-0.70),(1.572,-1.00),(1.588,-1.40),(1.604,-1.50),(1.620,-1.20),(1.636,-1.00),(1.652,-1.10),(1.668,-1.40),(1.684,-0.80),(1.700,-1.20),(1.716,-1.30),(1.732,-1.20),(1.748,-1.20),(1.764,-1.10),(1.780,0.20),(1.796,0.60),(1.812,0.40),(1.828,0.50),(1.844,0.30),(1.860,0.60),(1.875,0.40),(1.891,0.60),(1.907,0.50),(1.923,0.70),(1.939,0.20),(1.955,-0.20),(1.971,-0.30),(1.987,-0.60),(2.003,-1.20),(2.019,-0.90),(2.035,-1.00),(2.051,-0.60),(2.067,-1.00),(2.083,-0.70),(2.099,-0.80)]

ROWS = [
    [HVC_FORWARD, HVC_REVERSED, HVC_SUBSYL, HVC_SYL],
    [FIELDL_FORWARD, FIELDL_REVERSED, FIELDL_SUBSYL, FIELDL_SYL],
]

PANEL_W = 280
PANEL_H = [242, 241]


def text_layer(label, x, y, size, weight="normal", align="center"):
    return alt.Chart(pd.DataFrame({"label": [label]})).mark_text(
        font=FONT, fontSize=size, fontWeight=weight, align=align,
        baseline="alphabetic", color="black"
    ).encode(text="label:N", x=alt.value(x), y=alt.value(y))


def make_panel(pairs, row, col):
    df = pd.DataFrame(pairs, columns=["t", "resp"])
    ydom = Y_DOMAIN_HVC if row == 0 else Y_DOMAIN_FIELDL
    yticks = Y_TICKS_HVC if row == 0 else Y_TICKS_FIELDL
    h = PANEL_H[row]

    x_axis_kw = dict(values=X_TICKS, format=".1f", labelPadding=7, labelFlush=False,
                     labelOverlap=False)
    if col == 3:
        x_axis_kw.update(title=X_TITLE, titleX=147, titleY=67 if row == 0 else 66,
                         titleBaseline="alphabetic", titleAlign="center")
    else:
        x_axis_kw.update(title=None)
    x_axis = alt.Axis(**x_axis_kw)

    y_axis_kw = dict(values=yticks, labelAngle=270, labelAlign="center",
                     labelBaseline="alphabetic", labelPadding=5, labelFlush=False,
                     labelOverlap=False,
                     labelExpr="datum.value == 12 ? '' : datum.label")
    if col == 0:
        y_axis_kw.update(title=Y_TITLE, titleX=-46, titleY=127 if row == 0 else 126,
                         titleAngle=270, titleBaseline="alphabetic", titleAlign="center")
    else:
        y_axis_kw.update(title=None)
    y_axis = alt.Axis(**y_axis_kw)

    xs = alt.Scale(domain=X_DOMAIN, nice=False, zero=False)
    ys = alt.Scale(domain=ydom, nice=False, zero=False)

    trace = alt.Chart(df).mark_line(color="black", strokeWidth=1).encode(
        x=alt.X("t:Q", scale=xs, axis=x_axis),
        y=alt.Y("resp:Q", scale=ys, axis=y_axis),
    )
    zero = alt.Chart(pd.DataFrame({"x0": [ZERO_LINE[0]], "x1": [ZERO_LINE[1]],
                                   "y0": [0.0]})).mark_rule(
        color="#444444", strokeWidth=0.8, strokeDash=[1.5, 1.5]
    ).encode(
        x=alt.X("x0:Q", scale=xs, axis=x_axis),
        x2="x1:Q",
        y=alt.Y("y0:Q", scale=ys, axis=y_axis),
    )
    layers = [zero, trace, text_layer(PANEL_TITLES[col], PANEL_W / 2, -18, 25)]
    if col == 0:
        yb = -79 if row == 0 else -78
        layers.append(text_layer(ROW_LETTERS[row], -76, yb, 36, "bold", "left"))
        layers.append(text_layer(ROW_HEADINGS[row], 647, yb, 30, "bold", "center"))
    return alt.layer(*layers).properties(width=PANEL_W, height=h)


rows = []
for r, row_data in enumerate(ROWS):
    panels = [make_panel(p, r, c) for c, p in enumerate(row_data)]
    rows.append(alt.hconcat(*panels, spacing=59, bounds="flush"))

# with flush bounds a nested row counts as zero height, so the spacing is
# measured from the top of row a's plots to the top of row b's plots
chart = alt.vconcat(*rows, spacing=512, bounds="flush").properties(
    padding={"left": 10, "top": 7, "right": 0, "bottom": 0}
).configure_view(
    stroke="black", strokeWidth=1
).configure_axis(
    grid=False, domain=False, tickColor="black", tickSize=6, tickWidth=1,
    labelColor="black", labelFont=FONT, labelFontSize=16,
    titleFont=FONT, titleFontSize=20, titleFontWeight="normal", titleColor="black"
)

chart.save("out.html", embed_options={"renderer": "svg", "actions": False})
